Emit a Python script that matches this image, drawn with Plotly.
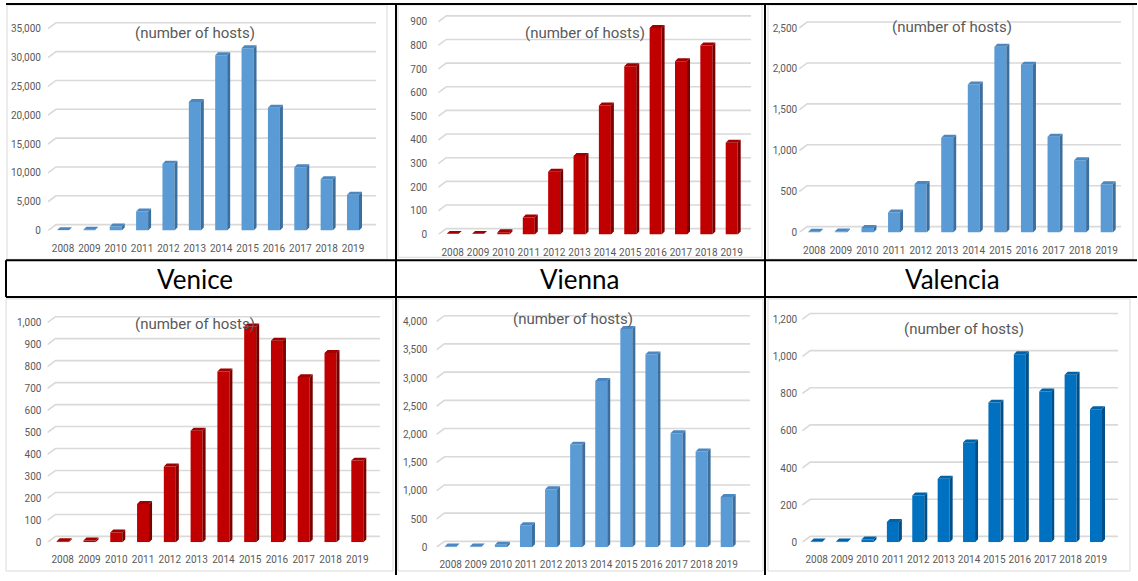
import plotly.graph_objects as go

# ---- data -------------------------------------------------------------
years = list(range(2008, 2020))
year_labels = [str(y) for y in years]

venice_hosts = [80, 150, 700, 3300, 11600, 22300, 30400, 31600, 21300, 11000, 8900, 6200]
vienna_hosts = [3, 3, 10, 72, 266, 332, 546, 712, 874, 733, 800, 388]
valencia_hosts = [10, 15, 55, 245, 595, 1160, 1810, 2270, 2050, 1170, 885, 590]
city_d_hosts = [5, 8, 45, 175, 345, 508, 778, 982, 918, 752, 862, 372]
city_e_hosts = [15, 15, 45, 390, 1030, 1820, 2950, 3870, 3420, 2020, 1700, 890]
city_f_hosts = [5, 5, 15, 110, 252, 342, 538, 752, 1012, 812, 902, 716]

city_names = ["Venice", "Vienna", "Valencia"]
subtitle = "(number of hosts)"

W, H = 1138, 581
FONT = "Liberation Sans Narrow, Arial Narrow, Roboto, sans-serif"
TICK_GRAY = "#595959"
GRID = "#d9d9d9"

BLUE = ("#5b9bd5", "#3d6f9e", "#4c87c0")
RED = ("#c00000", "#7a0000", "#a00000")
DARK_BLUE = ("#0070c0", "#004f88", "#0062a8")

# panel geometry in page pixels
panels = [
    dict(values=venice_hosts, ymax=35000, dtick=5000, colors=BLUE,
         zero=233, top_tick=29, x0=63, x1=353, grid_right=376, label_right=40,
         title=(195, 33), box=(7, 5, 387, 262)),
    dict(values=vienna_hosts, ymax=900, dtick=100, colors=RED,
         zero=237, top_tick=22, x0=452.7, x1=731.7, grid_right=751, label_right=427,
         title=(585, 33), box=(398, 5, 762, 260)),
    dict(values=valencia_hosts, ymax=2500, dtick=500, colors=BLUE,
         zero=235, top_tick=28.3, x0=814.3, x1=1106.7, grid_right=1121, label_right=797,
         title=(952, 27), box=(768, 5, 1133, 262)),
    dict(values=city_d_hosts, ymax=1000, dtick=100, colors=RED,
         zero=548, top_tick=326, x0=62.7, x1=357.3, grid_right=380, label_right=41,
         title=(195, 327), box=(6, 302, 393, 577)),
    dict(values=city_e_hosts, ymax=4000, dtick=500, colors=BLUE,
         zero=553, top_tick=325, x0=450.7, x1=726.7, grid_right=750, label_right=427,
         title=(573, 322), box=(398, 302, 763, 577)),
    dict(values=city_f_hosts, ymax=1200, dtick=200, colors=DARK_BLUE,
         zero=548, top_tick=322.7, x0=816.7, x1=1096, grid_right=1118, label_right=797,
         title=(964, 332), box=(768, 302, 1130, 577)),
]

BAR_W = 12      # front face width, px
DEPTH_X = 3     # bar depth, px
DEPTH_Y = 3
WALL_X = 8      # back-wall offset of the gridlines, px
WALL_Y = 6


def px_x(x):
    return x / W


def px_y(y):
    return 1 - y / H


fig = go.Figure()
shapes = []
annotations = []

for i, p in enumerate(panels, start=1):
    xa = "x" if i == 1 else f"x{i}"
    ya = "y" if i == 1 else f"y{i}"
    step = (p["x1"] - p["x0"]) / (len(years) - 1)
    left_px = p["x0"] - 0.57 * step
    right_px = p["grid_right"]
    xr = [years[0] - 0.57, years[-1] + (right_px - p["x1"]) / step]
    top_px = p["top_tick"] - 10
    ppu = (p["zero"] - p["top_tick"]) / p["ymax"]          # pixels per unit
    yr = [0, (p["zero"] - top_px) / ppu]

    ux = 1 / step            # data units per px, x
    uy = 1 / ppu             # data units per px, y

    # back-wall gridlines with the slanted side-wall segment
    gx, gy = [], []
    ticks = list(range(0, p["ymax"] + 1, p["dtick"]))
    for t in ticks:
        gx += [xr[0], xr[0] + WALL_X * ux, xr[1], None]
        gy += [t, t + WALL_Y * uy, t + WALL_Y * uy, None]
    fig.add_trace(go.Scatter(x=gx, y=gy, mode="lines", xaxis=xa, yaxis=ya,
                             line=dict(color=GRID, width=1.6), hoverinfo="skip",
                             showlegend=False))

    front, side, top = p["colors"]
    hw = BAR_W * ux / 2
    dx, dy = DEPTH_X * ux, DEPTH_Y * uy
    fx, fy, sx, sy, tx, ty = [], [], [], [], [], []
    for yr_, v in zip(years, p["values"]):
        fx += [yr_ - hw, yr_ + hw, yr_ + hw, yr_ - hw, yr_ - hw, None]
        fy += [0, 0, v, v, 0, None]
        sx += [yr_ + hw, yr_ + hw + dx, yr_ + hw + dx, yr_ + hw, yr_ + hw, None]
        sy += [0, dy, v + dy, v, 0, None]
        tx += [yr_ - hw, yr_ + hw, yr_ + hw + dx, yr_ - hw + dx, yr_ - hw, None]
        ty += [v, v, v + dy, v + dy, v, None]
    for xs, ys, c in ((fx, fy, front), (sx, sy, side), (tx, ty, top)):
        fig.add_trace(go.Scatter(x=xs, y=ys, mode="lines", fill="toself",
                                 fillcolor=c, line=dict(width=0, color=c),
                                 xaxis=xa, yaxis=ya, hoverinfo="skip",
                                 showlegend=False))

    fig.layout[("xaxis" if i == 1 else f"xaxis{i}")] = dict(
        domain=[px_x(left_px), px_x(right_px)], range=xr, anchor=ya,
        showgrid=False, zeroline=False, showline=False, ticks="",
        tickvals=years, ticktext=year_labels, ticklabelstandoff=10,
        tickfont=dict(family=FONT, size=10, color=TICK_GRAY), fixedrange=True)
    fig.layout[("yaxis" if i == 1 else f"yaxis{i}")] = dict(
        domain=[px_y(p["zero"]), px_y(top_px)], range=yr, anchor=xa,
        showgrid=False, zeroline=False, showline=False, ticks="",
        tickvals=ticks, ticktext=[f"{t:,}" for t in ticks],
        ticklabelstandoff=max(0, int(left_px - p["label_right"]) - 1),
        tickfont=dict(family=FONT, size=10, color=TICK_GRAY), fixedrange=True)

    # chart frame
    bx0, by0, bx1, by1 = p["box"]
    shapes.append(dict(type="rect", xref="paper", yref="paper",
                       x0=px_x(bx0), x1=px_x(bx1), y0=px_y(by1), y1=px_y(by0),
                       line=dict(color=GRID, width=1), layer="below"))
    annotations.append(dict(text=subtitle, xref="paper", yref="paper",
                            x=px_x(p["title"][0]), y=px_y(p["title"][1]),
                            xanchor="center", yanchor="middle", showarrow=False,
                            font=dict(family=FONT, size=15, color=TICK_GRAY)))

# table rules
rules = [
    (6, 4, 1137, 4), (6, 263, 1137, 263), (6, 300, 1137, 300),
    (396, 4, 396, 581), (765, 4, 765, 581), (6, 263, 6, 300),
]
for x0, y0, x1, y1 in rules:
    shapes.append(dict(type="line", xref="paper", yref="paper",
                       x0=px_x(x0), x1=px_x(x1), y0=px_y(y0), y1=px_y(y1),
                       line=dict(color="black", width=2)))

for name, cx in zip(city_names, (195, 580, 952)):
    annotations.append(dict(text=name, xref="paper", yref="paper",
                            x=px_x(cx), y=px_y(282), xanchor="center", yanchor="middle",
                            showarrow=False,
                            font=dict(family="Lato, Open Sans, sans-serif", size=26,
                                      color="black")))

fig.update_layout(width=W, height=H, autosize=False,
                  margin=dict(l=0, r=0, t=0, b=0),
                  paper_bgcolor="white", plot_bgcolor="rgba(0,0,0,0)",
                  shapes=shapes, annotations=annotations, showlegend=False)

fig.write_html("out.html")
